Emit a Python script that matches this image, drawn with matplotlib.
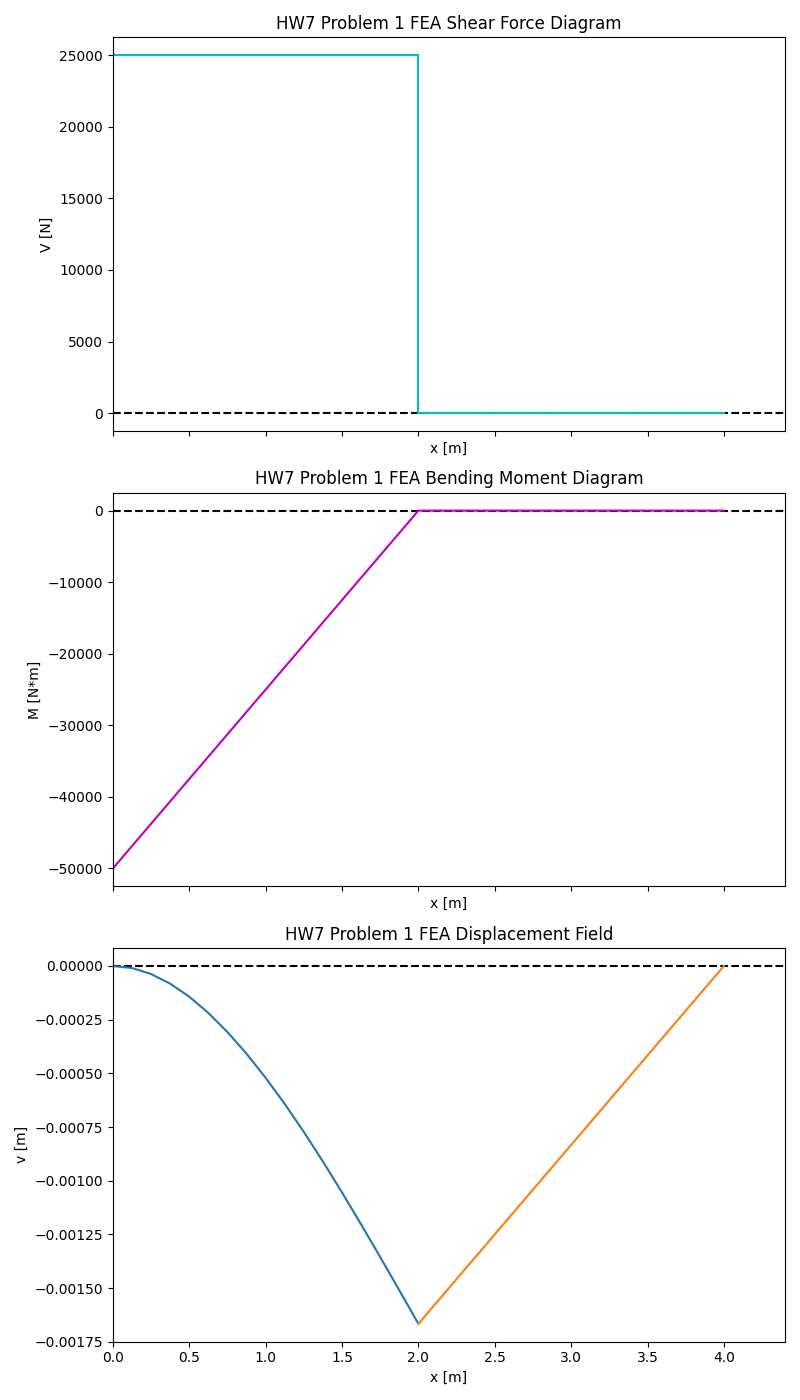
import matplotlib
matplotlib.use("Agg")
import matplotlib.pyplot as plt

# shear force
x_shear = [0.0, 2.0, 2.0, 4.0]
V = [25000, 25000, 0, 0]

# bending moment
x_moment = [0.0, 2.0, 4.0]
M = [-50000, 0, 0]

# displacement, element 1 (curved) and element 2 (straight)
x_el1 = [0.0, 0.125, 0.25, 0.375, 0.5, 0.625, 0.75, 0.875, 1.0,
         1.125, 1.25, 1.375, 1.5, 1.625, 1.75, 1.875, 2.0]
v_el1 = [0.0, -0.0000096, -0.0000374, -0.0000824, -0.000143, -0.0002187,
         -0.000308, -0.0004087, -0.000521, -0.0006427, -0.000773,
         -0.0009108, -0.001055, -0.0012034, -0.001356, -0.0015106, -0.0016667]
x_el2 = [2.0, 4.0]
v_el2 = [-0.0016667, 0.0]

fig, (ax1, ax2, ax3) = plt.subplots(3, 1, figsize=(8, 14), sharex=True)

ax1.axhline(0, color="k", linestyle="--")
ax1.plot(x_shear, V, "c")
ax1.set_title("HW7 Problem 1 FEA Shear Force Diagram")
ax1.set_xlabel("x [m]")
ax1.set_ylabel("V [N]")

ax2.axhline(0, color="k", linestyle="--")
ax2.plot(x_moment, M, "m")
ax2.set_title("HW7 Problem 1 FEA Bending Moment Diagram")
ax2.set_xlabel("x [m]")
ax2.set_ylabel("M [N*m]")

ax3.axhline(0, color="k", linestyle="--")
ax3.plot(x_el1, v_el1)
ax3.plot(x_el2, v_el2)
ax3.set_title("HW7 Problem 1 FEA Displacement Field")
ax3.set_xlabel("x [m]")
ax3.set_ylabel("v [m]")
ax3.set_xlim(0, 4.4)

plt.tight_layout()
plt.savefig("out.png", dpi=100)
